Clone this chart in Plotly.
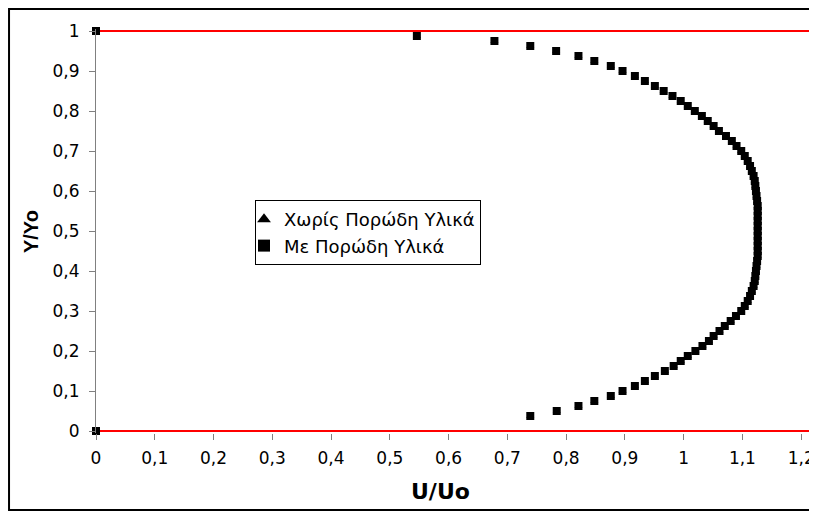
import plotly.graph_objects as go

# ---- data ----
y_ratio = [1, 0.9875, 0.975, 0.9625, 0.95, 0.9375, 0.925, 0.9125, 0.9, 0.8875,
           0.875, 0.8625, 0.85, 0.8375, 0.825, 0.8125, 0.8, 0.7875, 0.775, 0.7625,
           0.75, 0.7375, 0.725, 0.7125, 0.7, 0.6875, 0.675, 0.6625, 0.65, 0.6375,
           0.625, 0.6125, 0.6, 0.5875, 0.575, 0.5625, 0.55, 0.5375, 0.525, 0.5125,
           0.5, 0.4875, 0.475, 0.4625, 0.45, 0.4375, 0.425, 0.4125, 0.4, 0.3875,
           0.375, 0.3625, 0.35, 0.3375, 0.325, 0.3125, 0.3, 0.2875, 0.275, 0.2625,
           0.25, 0.2375, 0.225, 0.2125, 0.2, 0.1875, 0.175, 0.1625, 0.15, 0.1375,
           0.125, 0.1125, 0.1, 0.0875, 0.075, 0.0625, 0.05, 0.0375, 0]

u_porous = [0, 0.546, 0.678, 0.739, 0.783, 0.821, 0.848, 0.876, 0.896, 0.917,
            0.934, 0.951, 0.966, 0.981, 0.995, 1.007, 1.019, 1.031, 1.041, 1.051,
            1.060, 1.072, 1.082, 1.090, 1.098, 1.104, 1.109, 1.113, 1.116, 1.119,
            1.121, 1.122, 1.123, 1.124, 1.125, 1.126, 1.126, 1.126, 1.126, 1.126,
            1.126, 1.126, 1.126, 1.126, 1.126, 1.126, 1.125, 1.124, 1.123, 1.122,
            1.121, 1.119, 1.116, 1.113, 1.109, 1.104, 1.098, 1.089, 1.080, 1.070,
            1.061, 1.051, 1.043, 1.032, 1.020, 1.007, 0.995, 0.983, 0.968, 0.951,
            0.934, 0.917, 0.896, 0.876, 0.848, 0.821, 0.784, 0.739, 0]

# series without porous material (hidden behind the squares in the reference)
u_plain = list(u_porous)

wall_y = [0, 1]
wall_x = [0, 1.215]

x_ticks = [0, 0.1, 0.2, 0.3, 0.4, 0.5, 0.6, 0.7, 0.8, 0.9, 1.0, 1.1, 1.2]
x_tick_text = ["0", "0,1", "0,2", "0,3", "0,4", "0,5", "0,6", "0,7", "0,8", "0,9", "1", "1,1", "1,2"]
y_ticks = [0, 0.1, 0.2, 0.3, 0.4, 0.5, 0.6, 0.7, 0.8, 0.9, 1.0]
y_tick_text = ["0", "0,1", "0,2", "0,3", "0,4", "0,5", "0,6", "0,7", "0,8", "0,9", "1"]

series_names = ["Χωρίς Πορώδη Υλικά", "Με Πορώδη Υλικά"]

fig = go.Figure()

for wy in wall_y:
    fig.add_trace(go.Scatter(x=wall_x, y=[wy, wy], mode="lines",
                             line=dict(color="#ff0000", width=2),
                             showlegend=False, hoverinfo="skip", cliponaxis=False))

fig.add_trace(go.Scatter(x=u_plain, y=y_ratio, mode="markers", name=series_names[0],
                         marker=dict(symbol="triangle-up", size=7, color="black"),
                         cliponaxis=False))
fig.add_trace(go.Scatter(x=u_porous, y=y_ratio, mode="markers", name=series_names[1],
                         marker=dict(symbol="square", size=8, color="black",
                                     line=dict(width=0)),
                         cliponaxis=False))

fig.update_layout(
    width=809, height=503,
    margin=dict(l=88, r=7, t=21, b=78, autoexpand=False),
    paper_bgcolor="white", plot_bgcolor="white",
    font=dict(family="DejaVu Sans", color="black"),
    showlegend=True,
    legend=dict(x=0.2227, y=0.5767, xanchor="left", yanchor="top",
                bordercolor="black", borderwidth=1, bgcolor="white",
                font=dict(family="DejaVu Sans", size=18, color="black"),
                tracegroupgap=0, itemsizing="constant", indentation=-12),
    xaxis=dict(range=[0, 1.215], tickvals=x_ticks, ticktext=x_tick_text,
               showgrid=False, zeroline=False, showline=False,
               ticks="outside", ticklen=6, tickcolor="#808080", tickwidth=1,
               tickfont=dict(family="DejaVu Sans", size=17, color="black"),
               ticklabelstandoff=4),
    yaxis=dict(range=[-0.005, 1.005], tickvals=y_ticks, ticktext=y_tick_text,
               showgrid=False, zeroline=False, showline=True, linecolor="#808080",
               linewidth=1, ticks="outside", ticklen=6, tickcolor="#808080",
               tickwidth=1,
               tickfont=dict(family="DejaVu Sans", size=17, color="black"),
               ticklabelstandoff=6),
    annotations=[
        dict(text="<b>U/Uo</b>", xref="paper", yref="paper", x=0.4818, y=-0.1436,
             showarrow=False, xanchor="center", yanchor="middle",
             font=dict(family="DejaVu Sans", size=22, color="black")),
        dict(text="<b>Y/Yo</b>", xref="paper", yref="paper", x=-0.091, y=0.4975,
             showarrow=False, xanchor="center", yanchor="middle", textangle=-90,
             font=dict(family="Liberation Sans", size=20, color="black")),
    ],
    shapes=[
        dict(type="rect", xref="paper", yref="paper",
             x0=-0.1218, x1=1.0084, y0=-0.1906, y1=1.0495,
             line=dict(color="black", width=2), fillcolor="rgba(0,0,0,0)"),
    ],
)

fig.write_html("out.html")
